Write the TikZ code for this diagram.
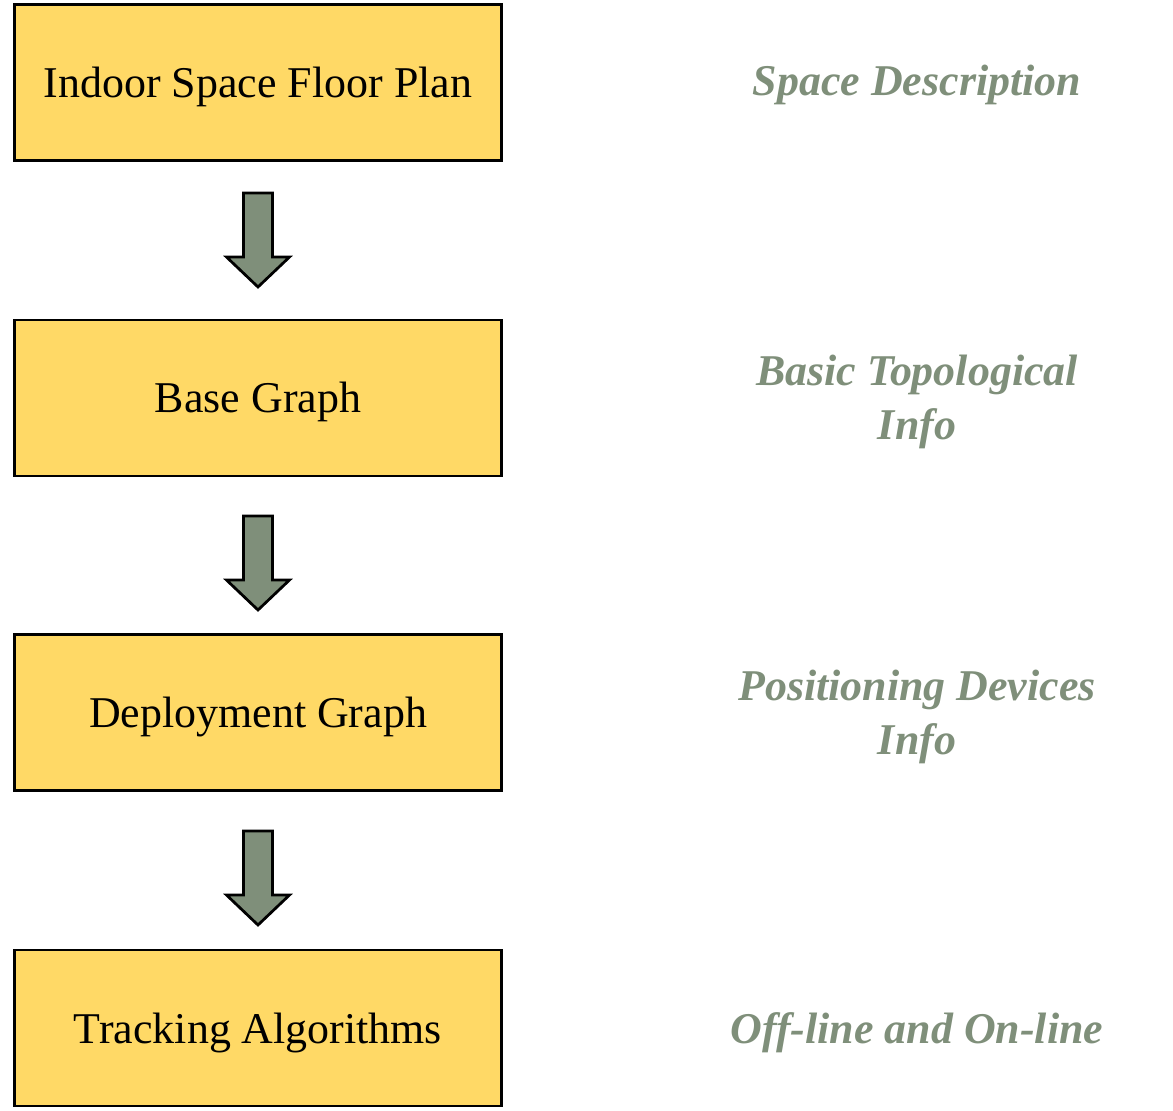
\documentclass[tikz,border=0pt]{standalone}
\usepackage{fontspec}
\setmainfont{Liberation Serif}
\definecolor{stageyellow}{HTML}{FFD966}
\definecolor{sagegray}{HTML}{7F8F7A}
\tikzset{
  stage/.style={shape=rectangle, draw, line width=0.055cm, fill=stageyellow,
    minimum width=9.74cm, minimum height=3.12cm, inner sep=0pt,
    text height=0.6cm, text depth=0pt,
    font=\fontsize{25}{30}\selectfont},
  note/.style={text=sagegray, align=center, inner sep=0pt, text depth=0pt,
    font=\fontsize{25}{31}\selectfont\bfseries\itshape},
  oneline/.style={text height=0.6cm},
  flow/.style={draw, line width=0.055cm, fill=sagegray, line join=miter}
}
\begin{document}
\begin{tikzpicture}[x=0.02cm, y=-0.02cm]
  \useasboundingbox (0, 0) rectangle (1173, 1111);

  \node [stage] (plan) at (258, 82.5) {Indoor Space Floor Plan};
  \node [stage] (base) at (258, 398) {Base Graph};
  \node [stage] (deploy) at (258, 712.5) {Deployment Graph};
  \node [stage] (track) at (258, 1028) {Tracking Algorithms};

  \node [note, oneline] (space) at (917, 81) {Space Description};
  \node [note] (topo) at (917, 397) {Basic Topological\\Info};
  \node [note] (devices) at (917, 712) {Positioning Devices\\Info};
  \node [note, oneline] (modes) at (917, 1028) {Off-line and On-line};

  % block arrows between the stages
  \foreach \t in {193, 516, 831} {
    \draw [flow] (243.5, \t) -- (272.5, \t) -- (272.5, \t + 64) -- (289.5, \t + 64)
      -- (258, \t + 94) -- (226.5, \t + 64) -- (243.5, \t + 64) -- cycle;
  }
\end{tikzpicture}
\end{document}
